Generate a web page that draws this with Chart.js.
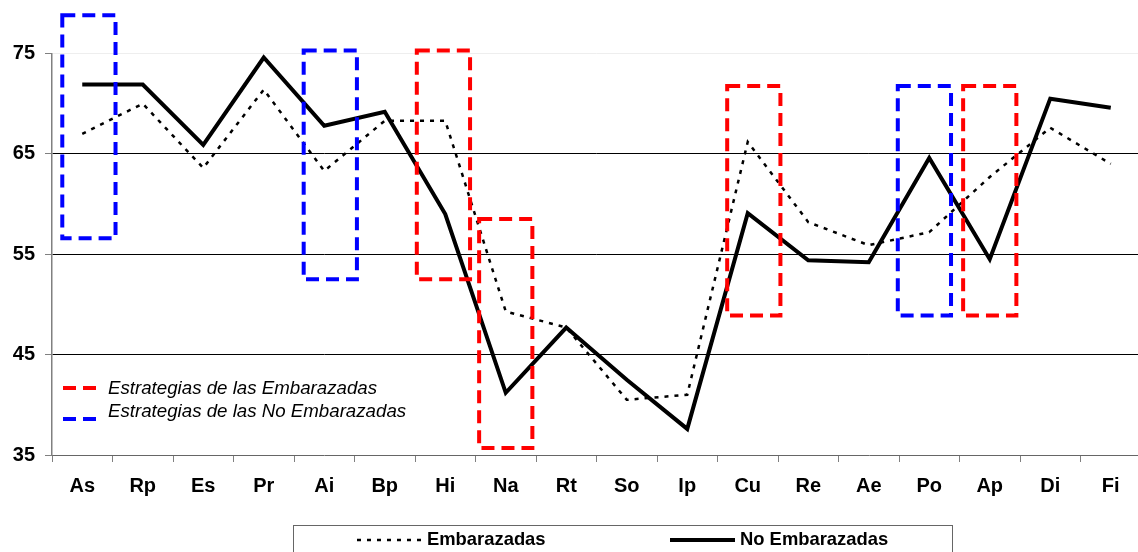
<!DOCTYPE html>
<html>
<head>
<meta charset="utf-8">
<script src="https://cdn.jsdelivr.net/npm/chart.js@4.4.1/dist/chart.umd.min.js"></script>
<style>
  html, body { margin: 0; padding: 0; background: #fff; overflow: hidden; }
  #wrap { width: 1138px; height: 552px; overflow: hidden; }
</style>
</head>
<body>
<div id="wrap"><canvas id="chart" width="1142" height="552"></canvas></div>
<script>
// -------- Data ----------
const categories = ["As", "Rp", "Es", "Pr", "Ai", "Bp", "Hi", "Na", "Rt", "So", "Ip", "Cu", "Re", "Ae", "Po", "Ap", "Di", "Fi"];
const embarazadas = [67.0, 70.0, 63.6, 71.4, 63.3, 68.3, 68.3, 49.3, 47.7, 40.5, 41.0, 66.2, 58.2, 55.9, 57.2, 62.7, 67.6, 64.0];
const noEmbarazadas = [71.9, 71.9, 65.9, 74.6, 67.8, 69.2, 59.0, 41.2, 47.7, 42.5, 37.6, 59.1, 54.4, 54.2, 64.6, 54.5, 70.5, 69.6];
const yTicks = [35, 45, 55, 65, 75];

// strategy boxes (category, small shift in category units, high, low, group)
const boxCats = ["As", "Ai", "Hi", "Na", "Cu", "Po", "Ap"];
const boxShift = [0.11, 0.10, -0.03, 0.0, 0.10, -0.08, 0.0];
const boxHigh = [78.8, 75.3, 75.3, 58.5, 71.75, 71.75, 71.75];
const boxLow = [56.6, 52.5, 52.5, 35.7, 48.9, 48.9, 48.9];
const boxGroup = ["no", "no", "emb", "emb", "emb", "no", "emb"];
const groupLabels = { emb: "Estrategias de las Embarazadas", no: "Estrategias de las No Embarazadas" };

const groupColor = { emb: "#ff0000", no: "#0000ff" };
const FONT = "'Liberation Sans', Arial, sans-serif";

// -------- Strategy boxes ----------
const boxesPlugin = {
  id: "boxes",
  afterDatasetsDraw(chart) {
    const { ctx, scales: { x, y } } = chart;
    const half = x.width / categories.length * 0.44;
    ctx.save();
    ctx.lineWidth = 4;
    ctx.setLineDash([13, 7]);
    boxCats.forEach((c, i) => {
      const cx = x.getPixelForValue(categories.indexOf(c) + boxShift[i]);
      const top = y.getPixelForValue(boxHigh[i]);
      const bot = y.getPixelForValue(boxLow[i]);
      ctx.strokeStyle = groupColor[boxGroup[i]];
      ctx.strokeRect(cx - half, top, half * 2, bot - top);
    });
    ctx.restore();
  }
};

// -------- Legends ----------
const legendPlugin = {
  id: "legends",
  afterDraw(chart) {
    const ctx = chart.ctx;
    ctx.save();

    // strategies legend inside the plot
    ctx.lineWidth = 4;
    ctx.setLineDash([13, 7]);
    ctx.textBaseline = "middle";
    ctx.font = "italic 18.7px " + FONT;
    [["emb", 388, 389], ["no", 419, 412]].forEach(([g, ly, ty]) => {
      ctx.strokeStyle = groupColor[g];
      ctx.beginPath();
      ctx.moveTo(63, ly);
      ctx.lineTo(98, ly);
      ctx.stroke();
      ctx.fillStyle = "#000";
      ctx.fillText(groupLabels[g], 108, ty);
    });

    // series legend at the bottom
    ctx.setLineDash([]);
    ctx.lineWidth = 1;
    ctx.strokeStyle = "#666";
    ctx.strokeRect(293.5, 525.5, 659, 40);

    const ds = chart.data.datasets;
    ctx.font = "bold 18.4px " + FONT;
    [[ds[1], 357, 423, 427], [ds[0], 670, 735, 740]].forEach(([d, x0, x1, tx]) => {
      ctx.strokeStyle = d.borderColor;
      ctx.lineWidth = d.borderWidth;
      ctx.setLineDash(d.borderDash || []);
      ctx.beginPath();
      ctx.moveTo(x0, 540);
      ctx.lineTo(x1, 540);
      ctx.stroke();
      ctx.fillStyle = "#000";
      ctx.fillText(d.label, tx, 540);
    });
    ctx.restore();
  }
};

// -------- Chart ----------
new Chart(document.getElementById("chart"), {
  type: "line",
  data: {
    labels: categories,
    datasets: [
      {
        label: "No Embarazadas",
        data: noEmbarazadas,
        borderColor: "#000",
        borderWidth: 4,
        pointRadius: 0,
        tension: 0,
        order: 0
      },
      {
        label: "Embarazadas",
        data: embarazadas,
        borderColor: "#000",
        borderWidth: 2.5,
        borderDash: [4, 6],
        pointRadius: 0,
        tension: 0,
        order: 1
      }
    ]
  },
  options: {
    responsive: false,
    animation: false,
    events: [],
    devicePixelRatio: 1,
    layout: { padding: { top: 53.5, right: 1, left: 0, bottom: 0 } },
    plugins: { legend: { display: false }, tooltip: { enabled: false } },
    scales: {
      x: {
        offset: true,
        grid: { offset: true, drawOnChartArea: false, tickLength: 7, tickColor: "#808080" },
        border: { color: "#666", width: 1 },
        ticks: { color: "#000", font: { family: FONT, size: 20, weight: "bold" }, padding: 12, maxRotation: 0, autoSkip: false },
        afterFit: s => { s.height = 97; }
      },
      y: {
        min: 35,
        max: 75,
        afterBuildTicks: s => { s.ticks = yTicks.map(v => ({ value: v })); },
        grid: {
          color: c => c.tick.value === 75 ? "#eeeeee" : (c.tick.value === 35 ? "rgba(0,0,0,0)" : "#000"),
          tickLength: 7,
          tickColor: "#808080"
        },
        border: { color: "#808080", width: 1.5 },
        ticks: { color: "#000", font: { family: FONT, size: 20, weight: "bold" }, padding: 10 },
        afterFit: s => { s.width = 52; }
      }
    }
  },
  plugins: [boxesPlugin, legendPlugin]
});
</script>
</body>
</html>
